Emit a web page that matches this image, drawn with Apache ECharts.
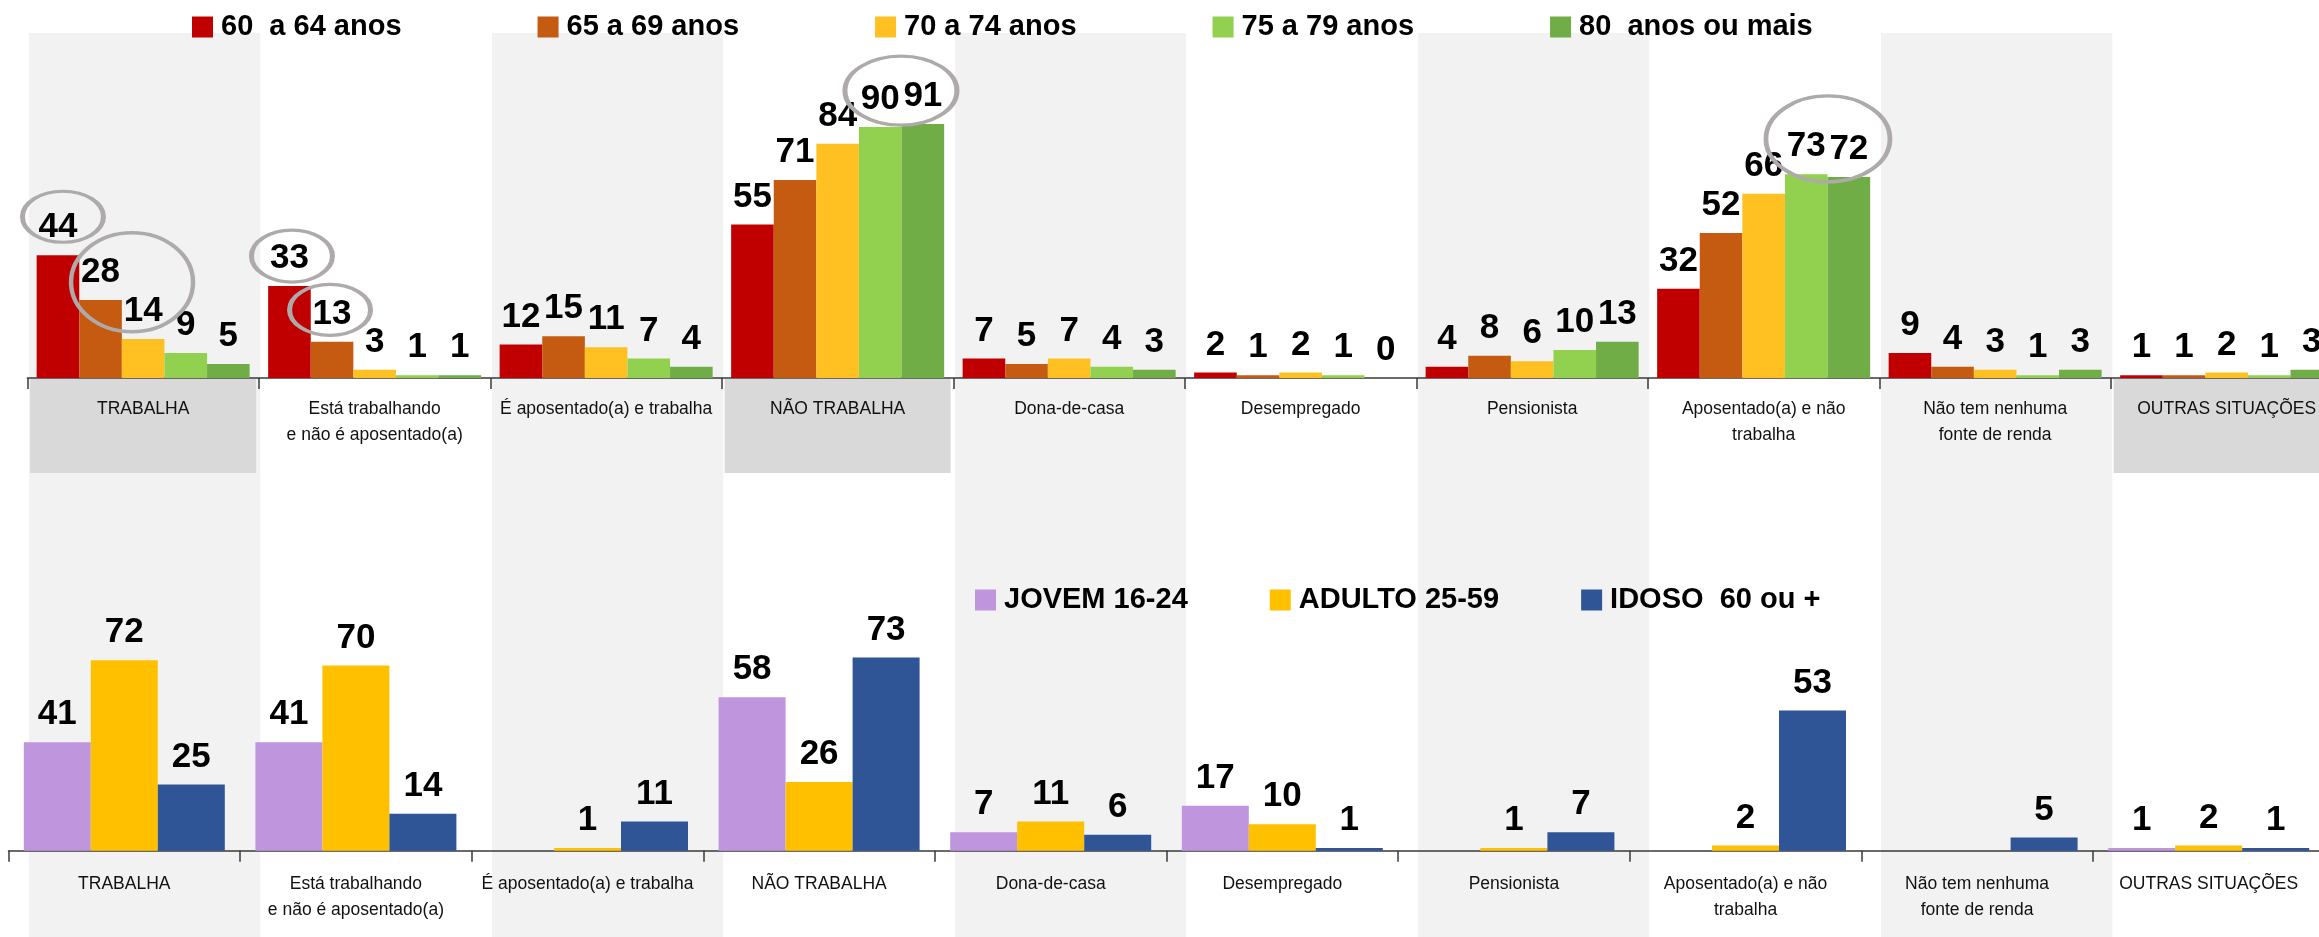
<!DOCTYPE html>
<html><head><meta charset="utf-8">
<script src="https://cdn.jsdelivr.net/npm/echarts@6/dist/echarts.min.js"></script>
<style>html,body{margin:0;padding:0;background:#fff}#c{width:2319px;height:937px}</style>
</head><body><div id="c"></div>
<script>
// ---------- data ----------
const categories = ['TRABALHA', 'Está trabalhando\ne não é aposentado(a)', 'É aposentado(a) e trabalha', 'NÃO TRABALHA', 'Dona-de-casa', 'Desempregado', 'Pensionista', 'Aposentado(a) e não\ntrabalha', 'Não tem nenhuma\nfonte de renda', 'OUTRAS SITUAÇÕES'];
const highlighted = ['TRABALHA', 'NÃO TRABALHA', 'OUTRAS SITUAÇÕES'];

const ageGroups = ['60  a 64 anos', '65 a 69 anos', '70 a 74 anos', '75 a 79 anos', '80  anos ou mais'];
const age60_64 = [44, 33, 12, 55, 7, 2, 4, 32, 9, 1];
const age65_69 = [28, 13, 15, 71, 5, 1, 8, 52, 4, 1];
const age70_74 = [14, 3, 11, 84, 7, 2, 6, 66, 3, 2];
const age75_79 = [9, 1, 7, 90, 4, 1, 10, 73, 1, 1];
const age80plus = [5, 1, 4, 91, 3, 0, 13, 72, 3, 3];

const lifeStages = ['JOVEM 16-24', 'ADULTO 25-59', 'IDOSO  60 ou +'];
const jovem = [41, 41, null, 58, 7, 17, null, null, null, 1];
const adulto = [72, 70, 1, 26, 11, 10, 1, 2, null, 2];
const idoso = [25, 14, 11, 73, 6, 1, 7, 53, 5, 1];

// ---------- styles ----------
const ageColors = ['#c00000', '#c55a11', '#ffc022', '#92d050', '#70ad47'];
const stageColors = ['#bf96de', '#ffc000', '#2f5597'];
const ageData = [age60_64, age65_69, age70_74, age75_79, age80plus];
const stageData = [jovem, adulto, idoso];

// annotation ellipses (series index, category index, centre value, offset, size)
const ellipses = [
  { s: 0, c: 0, y: 57.8, dx: 5, w: 81, h: 51 },
  { s: 1, c: 0, y: 34.3, dx: 31.5, w: 122, h: 99 },
  { s: 0, c: 1, y: 43.7, dx: 2.5, w: 81, h: 52 },
  { s: 1, c: 1, y: 24.4, dx: -2, w: 81, h: 51 },
  { s: 3, c: 3, y: 103, dx: 20.7, w: 112, h: 69 },
  { s: 3, c: 7, y: 85.7, dx: 21.7, w: 124, h: 86 }
];
const ellipsePath = 'path://M0,50 C0,22.4 22.4,0 50,0 C77.6,0 100,22.4 100,50 C100,77.6 77.6,100 50,100 C22.4,100 0,77.6 0,50 Z';

const FONT = '"Liberation Sans", Arial, sans-serif';

const labelStyle = {
  show: true, position: 'top', distance: 10,
  fontSize: 35, fontWeight: 'bold', color: '#000', fontFamily: FONT, lineHeight: 35
};
const axisLineStyle = { color: '#3a3a3a', width: 1.5 };

const chart = echarts.init(document.getElementById('c'), null, { renderer: 'canvas' });

const topSeries = ageGroups.map((name, i) => {
  const s = {
    name, type: 'bar', xAxisIndex: 1, yAxisIndex: 1,
    data: ageData[i], barWidth: 42.6, barGap: '0%',
    itemStyle: { color: ageColors[i] },
    label: labelStyle
  };
  const mine = ellipses.filter(e => e.s === i);
  if (mine.length) {
    s.markPoint = {
      symbol: ellipsePath, silent: true, animation: false,
      label: { show: false },
      itemStyle: { color: 'rgba(0,0,0,0)', borderColor: '#aeaaaa', borderWidth: 4 },
      data: mine.map(e => ({ coord: [e.c, e.y], symbolSize: [e.w, e.h], symbolOffset: [e.dx, 0] }))
    };
  }
  return s;
});

const bottomSeries = lifeStages.map((name, i) => ({
  name, type: 'bar', xAxisIndex: 2, yAxisIndex: 2,
  data: stageData[i], barWidth: 67, barGap: '0%',
  itemStyle: { color: stageColors[i] },
  label: labelStyle
}));

const legendText = { fontSize: 29, fontWeight: 'bold', color: '#000', fontFamily: FONT, padding: [0, 0, 0, 3], lineHeight: 30 };

chart.setOption({
  animation: false,
  backgroundColor: '#fff',
  legend: [
    { data: ageGroups, left: 192, top: 12, padding: 0, itemWidth: 21, itemHeight: 21, itemGap: 136, icon: 'rect', selectedMode: false, textStyle: legendText },
    { data: lifeStages, left: 975, top: 585, padding: 0, itemWidth: 21, itemHeight: 21, itemGap: 82, icon: 'rect', selectedMode: false, textStyle: legendText }
  ],
  grid: [
    { left: 29, width: 2315, top: 33, bottom: 0, outerBoundsMode: 'none', containLabel: false },
    { left: 27.4, width: 2315, top: 71.1, bottom: 559, outerBoundsMode: 'none', containLabel: false },
    { left: 8.5, width: 2316, top: 586.2, bottom: 86.3, outerBoundsMode: 'none', containLabel: false }
  ],
  xAxis: [
    {
      gridIndex: 0, type: 'category', data: categories, z: -1,
      axisLine: { show: false }, axisTick: { show: false }, axisLabel: { show: false },
      splitLine: { show: false },
      splitArea: { show: true, interval: 0, areaStyle: { color: ['#f2f2f2', '#ffffff'] } }
    },
    {
      gridIndex: 1, type: 'category',
      data: categories.map(c => highlighted.includes(c)
        ? { value: c, textStyle: { backgroundColor: '#d9d9d9', width: 226, padding: [17, 0, 51, 0] } }
        : c),
      axisLine: { lineStyle: axisLineStyle },
      axisTick: { show: true, length: 11, lineStyle: axisLineStyle, interval: 0 },
      axisLabel: { interval: 0, margin: 1, padding: [17, 0, 0, 0], fontSize: 17.5, lineHeight: 26, color: '#111', fontFamily: FONT, hideOverlap: false }
    },
    {
      gridIndex: 2, type: 'category', data: categories,
      axisLine: { lineStyle: axisLineStyle },
      axisTick: { show: true, length: 11, lineStyle: axisLineStyle, interval: 0 },
      axisLabel: { interval: 0, margin: 20, fontSize: 17.5, lineHeight: 26, color: '#111', fontFamily: FONT, hideOverlap: false }
    }
  ],
  yAxis: [
    { gridIndex: 0, type: 'value', show: false, min: 0, max: 1 },
    { gridIndex: 1, type: 'value', show: false, min: 0, max: 110, splitLine: { show: false } },
    { gridIndex: 2, type: 'value', show: false, min: 0, max: 100, splitLine: { show: false } }
  ],
  series: topSeries.concat(bottomSeries)
});
</script>
</body></html>
